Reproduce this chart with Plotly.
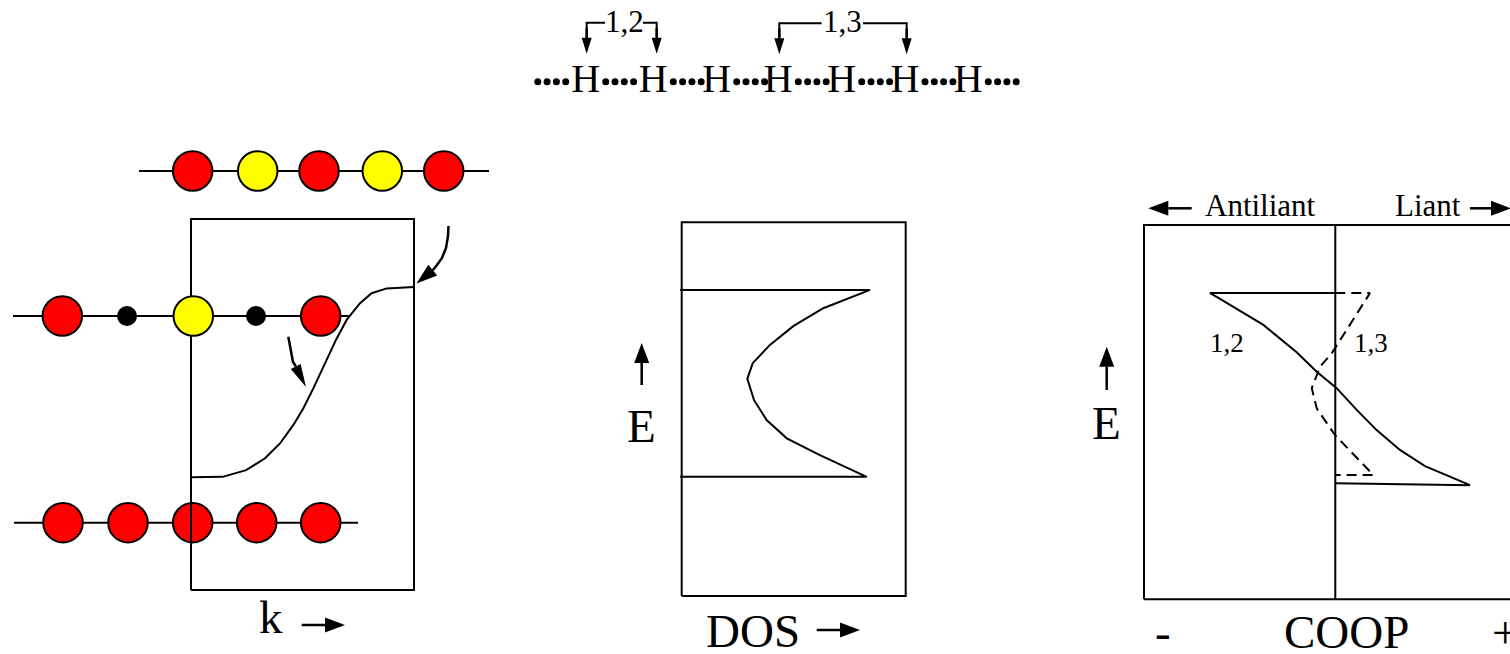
import numpy as np
import plotly.graph_objects as go

W, H = 1510, 654
SERIF = "Liberation Serif, Times New Roman, serif"
INK = "black"
RED, YELLOW = "#ff0000", "#ffff00"

# ---- band structure E(k) of the H chain, k from 0 to pi/a (box units) ----
band_k = [0, 0.142, 0.247, 0.332, 0.399, 0.459, 0.504, 0.549, 0.601, 0.650,
          0.698, 0.758, 0.810, 0.878, 1.0]
band_E = [0.304, 0.305, 0.323, 0.355, 0.395, 0.445, 0.490, 0.544, 0.611, 0.674,
          0.728, 0.773, 0.800, 0.813, 0.817]

# ---- density of states (band edges closed back to the axis) ----
dos_n = [-0.007, 0.841, 0.632, 0.498, 0.394, 0.317, 0.293, 0.323, 0.379, 0.469,
         0.617, 0.826, -0.007]
dos_E = [0.819, 0.819, 0.770, 0.722, 0.672, 0.623, 0.581, 0.524, 0.471, 0.422,
         0.377, 0.319, 0.319]

# ---- COOP curves: 1,2 neighbours (solid) and 1,3 neighbours (dashed) ----
coop12_x = [0, -0.655, -0.620, -0.376, -0.202, -0.097, 0.007, 0.112, 0.216,
            0.338, 0.469, 0.704, 0]
coop12_E = [0.818, 0.818, 0.808, 0.733, 0.660, 0.608, 0.564, 0.506, 0.452,
            0.399, 0.356, 0.305, 0.310]
coop13_x = [0, 0.181, -0.019, -0.080, -0.123, -0.097, -0.002, 0.199, 0]
coop13_E = [0.818, 0.818, 0.657, 0.621, 0.564, 0.510, 0.439, 0.332, 0.332]

# ---- atom chains drawn next to the band panel (page pixels) ----
top_chain_x = [192.7, 257.7, 319.0, 382.3, 443.7]
top_chain_c = [RED, YELLOW, RED, YELLOW, RED]
top_chain_y, top_chain_span = 171, (139, 489)

mid_chain_x = [62.3, 193.3, 320.7]
mid_chain_c = [RED, YELLOW, RED]
mid_nodes_x = [127.0, 256.0]
mid_chain_y, mid_chain_span = 316, (13, 350)

bot_chain_x = [63.0, 128.0, 192.7, 256.7, 320.7]
bot_chain_y, bot_chain_span = 522.7, (14, 358)

# ---- the H...H...H chain at the top ----
h_x = [585.7, 653.3, 716.7, 778.3, 841.7, 905.0, 968.3]
h_y = 81.7
dot_offsets = [20.0, 29.3, 38.6, 47.9]

# panel frames on the page: (left, right, top, bottom) and data extent
band_box, band_ext = (191, 414, 219, 590), (0, 1, 0, 1)
dos_box, dos_ext = (681.7, 905.7, 222.3, 596), (0, 1, 0, 1)
coop_box, coop_ext = (1144, 1526.6, 225, 599.3), (-1, 1, 0, 1)


def panel_ranges(box, ext):
    L, R, T, B = box
    x0, x1, y0, y1 = ext
    sx = (x1 - x0) / (R - L)
    sy = (y1 - y0) / (B - T)
    return [x0 - L * sx, x0 + (W - L) * sx], [y0 - (H - B) * sy, y0 + B * sy]


fig = go.Figure()
line = dict(color=INK, width=2)


def canvas(n):
    return dict(xaxis="x" if n == 1 else f"x{n}", yaxis="y" if n == 1 else f"y{n}")


def seg(xs, ys, n=1, **kw):
    fig.add_trace(go.Scatter(x=xs, y=ys, mode="lines", line=kw.pop("line", line),
                             hoverinfo="skip", showlegend=False, **canvas(n), **kw))


def atoms(xs, y, colors, size, n=1):
    fig.add_trace(go.Scatter(x=xs, y=[y] * len(xs), mode="markers",
                             marker=dict(size=size, color=colors,
                                         line=dict(color=INK, width=2)),
                             hoverinfo="skip", showlegend=False, **canvas(n)))


# --- lower page layer: bottom chain, top chain, H chain, brackets ---
seg(list(bot_chain_span), [bot_chain_y] * 2)
atoms(bot_chain_x, bot_chain_y, [RED] * len(bot_chain_x), 39.5)
seg(list(top_chain_span), [top_chain_y] * 2)
atoms(top_chain_x, top_chain_y, top_chain_c, 39.5)

dots_x = [h_x[0] - o for o in dot_offsets] + [hx + o for hx in h_x for o in dot_offsets]
fig.add_trace(go.Scatter(x=dots_x, y=[h_y] * len(dots_x), mode="markers",
                         marker=dict(size=7, color=INK), hoverinfo="skip",
                         showlegend=False, **canvas(1)))
fig.add_trace(go.Scatter(x=h_x, y=[h_y] * len(h_x), mode="text", text=["H"] * len(h_x),
                         textposition="middle center",
                         textfont=dict(family=SERIF, size=40, color=INK),
                         hoverinfo="skip", showlegend=False, **canvas(1)))

# bracket legs for the 1,2 and 1,3 interactions
brackets = [((586.7, 656.7), 22.7, (605, 643), "1,2", 624),
            ((779.3, 906.7), 23.3, (821.7, 863), "1,3", 842)]
for (xl, xr), yb, (g0, g1), _, _ in brackets:
    seg([xl, xl, g0], [40, yb, yb])
    seg([g1, xr, xr], [yb, yb, 40])

# --- panels ---
for i, (box, ext) in enumerate([(band_box, band_ext), (dos_box, dos_ext),
                                (coop_box, coop_ext)], start=2):
    xr, yr = panel_ranges(box, ext)
    fig.update_layout(**{
        f"xaxis{i}": dict(domain=[0, 1], range=xr, visible=False, anchor=f"y{i}"),
        f"yaxis{i}": dict(domain=[0, 1], range=yr, visible=False, anchor=f"x{i}"),
    })
    x0, x1, y0, y1 = ext
    seg([x0, x1, x1, x0, x0], [y0, y0, y1, y1, y0], n=i)

seg(band_k, band_E, n=2)
seg(dos_n, dos_E, n=3)
seg([0, 0], [0, 1], n=4)
seg(coop12_x, coop12_E, n=4)
seg(coop13_x, coop13_E, n=4, line=dict(color=INK, width=2, dash="10px,6px"))

# --- upper page layer: middle chain sits over the band frame ---
seg(list(mid_chain_span), [mid_chain_y] * 2, n=5)
atoms(mid_chain_x, mid_chain_y, mid_chain_c, 39.5, n=5)
fig.add_trace(go.Scatter(x=mid_nodes_x, y=[mid_chain_y] * 2, mode="markers",
                         marker=dict(size=20, color=INK), hoverinfo="skip",
                         showlegend=False, **canvas(5)))

# --- arrows: shaft as line, head as filled triangle ---
shapes = []


def arrow(path_pts, tip, head_len=20, head_w=15):
    xs = [p[0] for p in path_pts]
    ys = [p[1] for p in path_pts]
    bx, by = path_pts[-1]
    tx, ty = tip
    d = np.hypot(tx - bx, ty - by)
    ux, uy = (tx - bx) / d, (ty - by) / d
    cx, cy = tx - ux * head_len, ty - uy * head_len
    px, py = -uy * head_w / 2, ux * head_w / 2
    seg(xs + [cx], ys + [cy], line=dict(color=INK, width=2.5))
    shapes.append(dict(type="path", xref="x", yref="y", layer="above",
                       path=f"M{tx},{ty} L{cx + px},{cy + py} L{cx - px},{cy - py} Z",
                       fillcolor=INK, line=dict(width=0)))


arrow([(301.7, 625)], (345, 625))
arrow([(816.7, 630)], (860, 630))
arrow([(641.7, 385)], (641.7, 343))
arrow([(1106.7, 390)], (1106.7, 346.7))
arrow([(1191.7, 208.3)], (1148.3, 208.3))
arrow([(1470, 208.3)], (1511, 208.3))
for (xl, xr), yb, _, _, _ in brackets:
    arrow([(xl, yb + 5)], (xl, yb + 31), head_len=16, head_w=10)
    arrow([(xr, yb + 5)], (xr, yb + 31), head_len=16, head_w=10)
arrow([(448.5, 226), (448, 236), (446, 248), (442, 258), (437, 265), (433, 270)],
      (416.5, 283.5), head_len=21, head_w=14)
arrow([(288.3, 336.7), (290, 347), (291.7, 356), (293, 362), (295, 365)],
      (306, 387), head_len=23, head_w=11)

# --- text ---
labels = [
    ("k", 271, 616.7, 47, "center"),
    ("DOS", 753.3, 630.8, 47, "center"),
    ("E", 641.7, 425.8, 47, "center"),
    ("E", 1106.7, 422.5, 47, "center"),
    ("COOP", 1346.7, 631.7, 47, "center"),
    ("-", 1162.7, 631.7, 47, "center"),
    ("+", 1490, 631.7, 47, "left"),
    ("Antiliant", 1260.8, 205.5, 31, "center"),
    ("Liant", 1427.5, 205.5, 31, "center"),
    ("1,2", 1226.7, 342.5, 27, "center"),
    ("1,3", 1370.8, 342.5, 27, "center"),
]
labels += [(t, x, 21, 31, "center") for _, _, _, t, x in brackets]
annotations = [dict(text=t, x=x, y=y, xref="x", yref="y", showarrow=False,
                    xanchor=a, yanchor="middle",
                    font=dict(family=SERIF, size=s, color=INK))
               for t, x, y, s, a in labels]

page_axis = dict(domain=[0, 1], range=[0, W], visible=False)
page_yaxis = dict(domain=[0, 1], range=[H, 0], visible=False)
fig.update_layout(
    width=W, height=H, margin=dict(l=0, r=0, t=0, b=0),
    paper_bgcolor="white", plot_bgcolor="rgba(0,0,0,0)", showlegend=False,
    xaxis=dict(page_axis, anchor="y"), yaxis=dict(page_yaxis, anchor="x"),
    xaxis5=dict(page_axis, anchor="y5"), yaxis5=dict(page_yaxis, anchor="x5"),
    shapes=shapes, annotations=annotations,
)

fig.write_html("out.html", config={"displayModeBar": False})
